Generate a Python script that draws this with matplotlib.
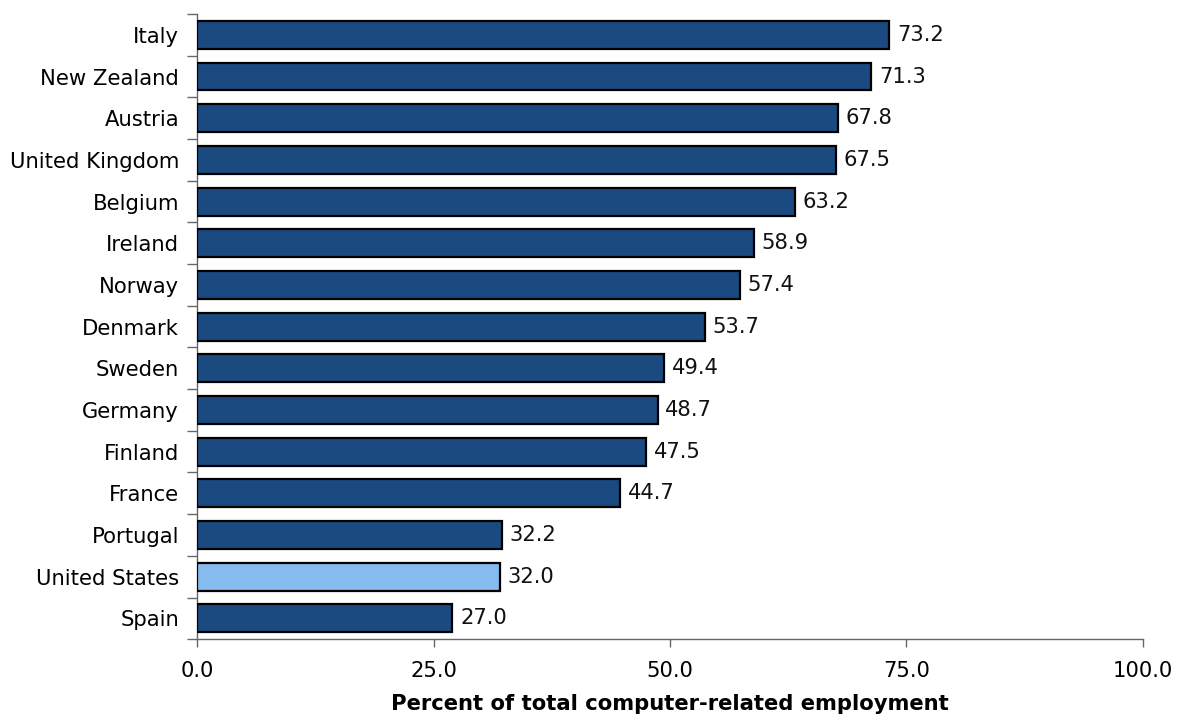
import matplotlib
matplotlib.use("Agg")
import matplotlib.pyplot as plt
import numpy as np

countries = ["Italy", "New Zealand", "Austria", "United Kingdom", "Belgium", "Ireland",
             "Norway", "Denmark", "Sweden", "Germany", "Finland", "France",
             "Portugal", "United States", "Spain"]
values = [73.2, 71.3, 67.8, 67.5, 63.2, 58.9, 57.4, 53.7, 49.4, 48.7, 47.5, 44.7,
          32.2, 32.0, 27.0]
highlight = "United States"
xticks = [0, 25, 50, 75, 100]
xlabel = "Percent of total computer-related employment"

dark = "#1a4a7f"
light = "#86bbef"

plt.rcParams['font.family'] = ['DejaVu Sans']
fig = plt.figure(figsize=(11.77, 7.19), dpi=100)
ax = fig.add_axes([0.1674, 0.111, 0.9711 - 0.1674, 0.9805 - 0.111])

fs = 15.2
n = len(countries)
ypos = np.arange(n)[::-1]
colors = [light if c == highlight else dark for c in countries]
ax.barh(ypos, values, height=0.67, color=colors, edgecolor="black", linewidth=1.6, zorder=3)
for y, v in zip(ypos, values):
    ax.text(v + 0.8, y, f"{v:.1f}", va="center", ha="left", fontsize=fs, color="#111111")

ax.set_xlim(0, 100)
ax.set_ylim(-0.5, n - 0.5)
ax.set_xticks(xticks)
ax.set_xticklabels([f"{t:.1f}" for t in xticks], fontsize=fs)
ax.set_yticks(ypos)
ax.set_yticklabels(countries, fontsize=fs)
ax.set_yticks(np.arange(-0.5, n, 1.0), minor=True)
ax.tick_params(axis="y", which="major", length=0, pad=13)
ax.tick_params(axis="y", which="minor", length=7, color="#666666", width=1)
ax.tick_params(axis="x", length=6, color="#666666", width=1, pad=10)
for s in ["top", "right"]:
    ax.spines[s].set_visible(False)
for s in ["left", "bottom"]:
    ax.spines[s].set_color("#666666")
    ax.spines[s].set_linewidth(1)
ax.set_xlabel(xlabel, fontsize=fs, fontweight="bold", labelpad=9)

fig.savefig("out.png", dpi=100)
